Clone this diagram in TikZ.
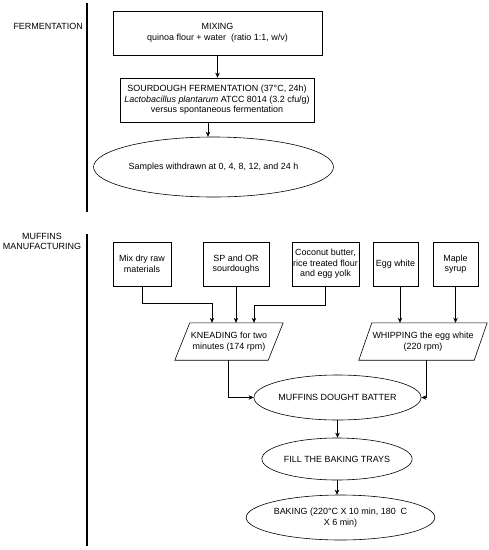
\documentclass[tikz,border=0pt]{standalone}
\usepackage{fontspec}
\setmainfont{Liberation Sans}
\usetikzlibrary{shapes.geometric,arrows.meta}
\begin{document}
\begin{tikzpicture}[x=1pt,y=-1pt,
  every node/.style={font=\fontsize{8.95}{10.5}\selectfont, align=center, inner sep=0pt},
  box/.style={draw, line width=0.6pt, minimum height=44pt},
  oval/.style={draw, ellipse, line width=0.6pt},
  para/.style={minimum height=37pt},
  paraline/.style={line width=0.6pt},
  arr/.style={-{Stealth[length=5pt,width=4.5pt]}, line width=0.6pt},
  sep/.style={line width=1.1pt}]
\useasboundingbox (0,0) rectangle (489,550);

% section labels and separators
\node[anchor=east] (lferm) at (83,26) {FERMENTATION};
\node (lmuff) at (42,241.5) {MUFFINS\\MANUFACTURING};
\coordinate (s1a) at (87,3);
\coordinate (s1b) at (87,212);
\coordinate (s2a) at (87,234);
\coordinate (s2b) at (87,546);
\draw[sep] (s1a) -- (s1b);
\draw[sep] (s2a) -- (s2b);

% fermentation
\node[box, minimum width=209pt] (mix0) at (217.5,33) {MIXING\\quinoa flour + water \ (ratio 1:1, w/v)};
\node[box, minimum width=194pt] (sour) at (217,100) {SOURDOUGH FERMENTATION (37°C, 24h)\\\textit{Lactobacillus plantarum} ATCC 8014 (3.2 cfu/g)\\versus spontaneous fermentation};
\node[oval, minimum width=171pt, minimum height=60pt] (samp) at (213.5,167) {Samples withdrawn at 0, 4, 8, 12, and 24 h};
\draw[arr] (mix0.south) -- (mix0.south |- sour.north);
\draw[arr] ([xshift=-9pt]sour.south) -- ([xshift=-9pt]sour.south |- samp.north);

% muffins ingredients
\node[box, minimum width=58pt] (mix) at (142,264) {Mix dry raw\\materials};
\node[box, minimum width=66pt] (sp) at (236,264) {SP and OR\\sourdoughs};
\node[box, minimum width=67pt] (coco) at (325.5,264) {Coconut butter,\\rice treated flour\\and egg yolk};
\node[box, minimum width=45pt] (egg) at (395.5,264) {Egg white};
\node[box, minimum width=45pt] (maple) at (455.5,264) {Maple\\syrup};

% parallelograms
\node[para, minimum width=93pt] (knead) at (229,341.5) {KNEADING for two\\minutes (174 rpm)};
\draw[paraline] ([xshift=-7.5pt]knead.south west) -- ([xshift=7.5pt]knead.north west)
  -- ([xshift=7.5pt]knead.north east) -- ([xshift=-7.5pt]knead.south east) -- cycle;
\node[para, minimum width=115pt] (whip) at (423,341.5) {WHIPPING the egg white\\(220 rpm)};
\draw[paraline] ([xshift=-6.5pt]whip.south west) -- ([xshift=6.5pt]whip.north west)
  -- ([xshift=6.5pt]whip.north east) -- ([xshift=-6.5pt]whip.south east) -- cycle;

\draw[arr] (mix.south) -- ++(0,17) -| ([xshift=-17pt]knead.north);
\draw[arr] (sp.south) -- (sp.south |- knead.north);
\draw[arr] (coco.south) -- ++(0,19) -| ([xshift=25pt]knead.north);
\draw[arr] ([xshift=4.5pt]egg.south) -- ([xshift=4.5pt]egg.south |- whip.north);
\draw[arr] (maple.south) -- (maple.south |- whip.north);

% final steps
\node[oval, minimum width=151pt, minimum height=45pt] (muff) at (337.5,397.5) {MUFFINS DOUGHT BATTER};
\node[oval, minimum width=150pt, minimum height=42pt] (fill) at (337,459) {FILL THE BAKING TRAYS};
\node[oval, minimum width=143pt, minimum height=45pt] (bake) at (340.5,517.5) {BAKING (220°C X 10 min, 180 \ C\\X 6 min)};

\draw[arr] ([xshift=-1pt]knead.south) |- (muff.west);
\draw[arr] ([xshift=3pt]whip.south) |- (muff.east);
\draw[arr] (muff.south) -- (muff.south |- fill.north);
\draw[arr] (fill.south) -- (fill.south |- bake.north);
\end{tikzpicture}
\end{document}
